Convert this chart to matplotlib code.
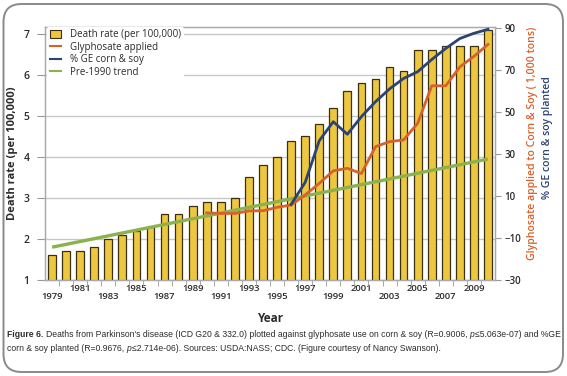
import matplotlib
matplotlib.use("Agg")
import matplotlib.pyplot as plt
from matplotlib import font_manager
from matplotlib.patches import FancyBboxPatch, Patch
from matplotlib.lines import Line2D

# datos
years = list(range(1979, 2011))
death_rate = [1.6, 1.7, 1.7, 1.8, 2.0, 2.1, 2.2, 2.3, 2.6, 2.6,
              2.8, 2.9, 2.9, 3.0, 3.5, 3.8, 4.0, 4.4, 4.5, 4.8,
              5.2, 5.6, 5.8, 5.9, 6.2, 6.1, 6.6, 6.6, 6.7, 6.7,
              6.7, 7.1]

glyph_years = list(range(1990, 2011))
glyphosate = [2.0, 1.7, 1.7, 2.9, 3.0, 4.6, 5.7, 10.5, 16.0, 22.0,
              23.2, 20.7, 33.5, 35.9, 36.7, 44.6, 62.5, 62.5, 71.5, 76.5,
              82.2]

ge_years = list(range(1996, 2011))
ge_planted = [6.0, 16.5, 36.3, 45.4, 39.4, 47.8, 54.9, 61.0, 66.0, 69.2,
              75.0, 80.3, 85.0, 87.5, 89.4]

trend_years = [1979, 2010]
trend_values = [1.8, 3.95]

tick_years = list(range(1979, 2011, 2))
tick_labels = [str(y) for y in tick_years]

# fuentes
disponibles = {f.name for f in font_manager.fontManager.ttflist}
fuente = "Open Sans" if "Open Sans" in disponibles else "DejaVu Sans"
fuente_nota = "Liberation Sans" if "Liberation Sans" in disponibles else fuente
plt.rcParams["font.family"] = [fuente, "DejaVu Sans"]

c_bar = "#EDC73F"
c_edge = "#3A3010"
c_orange = "#D8612A"
c_blue = "#2C4470"
c_green = "#8BB24C"
c_grid = "#C8C8C8"
c_text = "#2B2B2B"

fig = plt.figure(figsize=(5.67, 3.76), dpi=100)
ax = fig.add_axes([45 / 567, 1 - 280 / 376, 450 / 567, 253 / 376])
ax2 = ax.twinx()

# barras y tendencia (eje izquierdo)
ax.bar(years, death_rate, width=0.55, color=c_bar, edgecolor=c_edge, linewidth=0.9, zorder=2)
ax.plot(trend_years, trend_values, color=c_green, linewidth=2.4, zorder=3, solid_capstyle="butt")
ax.set_xlim(1978.5, 2010.5)
ax.set_ylim(1, 7.17)
ax.set_yticks(range(1, 8))
ax.yaxis.grid(True, color=c_grid, linewidth=1)
ax.set_axisbelow(True)

# lineas (eje derecho)
ax2.plot(glyph_years, glyphosate, color=c_orange, linewidth=2.0, zorder=4)
ax2.plot(ge_years, ge_planted, color=c_blue, linewidth=2.0, zorder=5)
ax2.set_ylim(-30, 90.5)
ax2.set_yticks(range(-30, 91, 20))

# ejes y ticks
ax.set_xticks(tick_years)
staggered = [("\n" + t) if i % 2 == 0 else t for i, t in enumerate(tick_labels)]
ax.set_xticklabels(staggered, fontsize=6.8, fontweight="semibold", color=c_text, linespacing=0.8)
ax.set_xticks([y + 0.5 for y in years[:-1]], minor=True)
ax.tick_params(axis="x", which="major", length=0, pad=3)
ax.tick_params(axis="x", which="minor", length=4, color="#999999")
ax.tick_params(axis="y", length=6, color="#999999", pad=5, labelsize=7.5, labelcolor=c_text)
for lbl in ax.get_yticklabels():
    lbl.set_fontweight("semibold")
ax2.tick_params(axis="y", length=4, color="#999999", pad=3, labelsize=7, labelcolor=c_text)
for lbl in ax2.get_yticklabels():
    lbl.set_fontweight("semibold")

for a in (ax, ax2):
    for s in a.spines.values():
        s.set_color("#AAAAAA")
        s.set_linewidth(0.9)

# leyenda
handles = [
    Patch(facecolor=c_bar, edgecolor=c_edge, linewidth=0.8),
    Line2D([], [], color=c_orange, linewidth=1.5),
    Line2D([], [], color=c_blue, linewidth=1.5),
    Line2D([], [], color=c_green, linewidth=1.5),
]
labels = ["Death rate (per 100,000)", "Glyphosate applied", "% GE corn & soy", "Pre-1990 trend"]
leg = ax2.legend(handles, labels, loc="upper left", bbox_to_anchor=(0.005, 1.0), fontsize=7.0,
                 frameon=True, facecolor="white", edgecolor="none", framealpha=1,
                 handlelength=1.2, handleheight=0.9, labelspacing=0.15, borderpad=0.25,
                 handletextpad=0.9, borderaxespad=0.0)
for t in leg.get_texts():
    t.set_color(c_text)

# titulos de ejes
fig.text(0.022, 0.592, "Death rate (per 100,000)", rotation=90, ha="center", va="center",
         fontsize=8, fontweight="bold", color=c_text)
fig.text(0.940, 0.62, "Glyphosate applied to Corn & Soy ( 1,000 tons)", rotation=90,
         ha="center", va="center", fontsize=7.6, fontweight="semibold", color=c_orange)
fig.text(0.965, 0.635, "% GE corn & soy planted", rotation=90, ha="center", va="center",
         fontsize=7.6, fontweight="semibold", color=c_blue)
fig.text(270 / 567, 1 - 318 / 376, "Year", ha="center", va="center",
         fontsize=8.5, fontweight="bold", color=c_text)

# nota al pie, por trozos (negrita / normal / cursiva)
linea1 = [("Figure 6.", "bold"), ("Deaths from Parkinson's disease (ICD G20 & 332.0) plotted against "
          "glyphosate use on corn & soy (R=0.9006,", "normal"), ("p", "italic"),
          ("≤5.063e-07) and %GE", "pegado")]
linea2 = [("corn & soy planted (R=0.9676,", "normal"), ("p", "italic"),
          ("≤2.714e-06). Sources: USDA:NASS; CDC. (Figure courtesy of Nancy Swanson).", "pegado")]

renderer = fig.canvas.get_renderer()
px = fig.bbox.width


def escribir(trozos, x0, y, size):
    # espacio medido como diferencia de anchos
    a = fig.text(0, 0, "x x", fontsize=size, family=fuente_nota)
    b = fig.text(0, 0, "xx", fontsize=size, family=fuente_nota)
    esp = a.get_window_extent(renderer).width - b.get_window_extent(renderer).width
    a.remove()
    b.remove()
    x = x0 * px
    textos = []
    for i, (txt, estilo) in enumerate(trozos):
        if i > 0 and estilo != "pegado":
            x += esp
        t = fig.text(x / px, y, txt, fontsize=size, family=fuente_nota, color=c_text,
                     va="baseline", fontweight="bold" if estilo == "bold" else "normal",
                     style="italic" if estilo == "italic" else "normal")
        x = t.get_window_extent(renderer).x1 + (0.3 if estilo == "italic" else 0)
        textos.append(t)
    return textos, x


x0 = 7 / 567
y1 = 1 - 337 / 376
y2 = 1 - 351 / 376
prueba, fin = escribir(linea1, x0, y1, 7.0)
for t in prueba:
    t.remove()
size = 7.0 * 553 / (fin - x0 * px)
escribir(linea1, x0, y1, size)
escribir(linea2, x0, y2, size)

# marco redondeado
marco = FancyBboxPatch((0.035, 0.04), 5.595, 3.68, boxstyle="round,pad=0,rounding_size=0.18",
                       transform=fig.dpi_scale_trans, facecolor="none", edgecolor="#8A8A8A",
                       linewidth=1.4)
fig.patches.append(marco)

fig.savefig("out.png", dpi=100)
plt.close(fig)
